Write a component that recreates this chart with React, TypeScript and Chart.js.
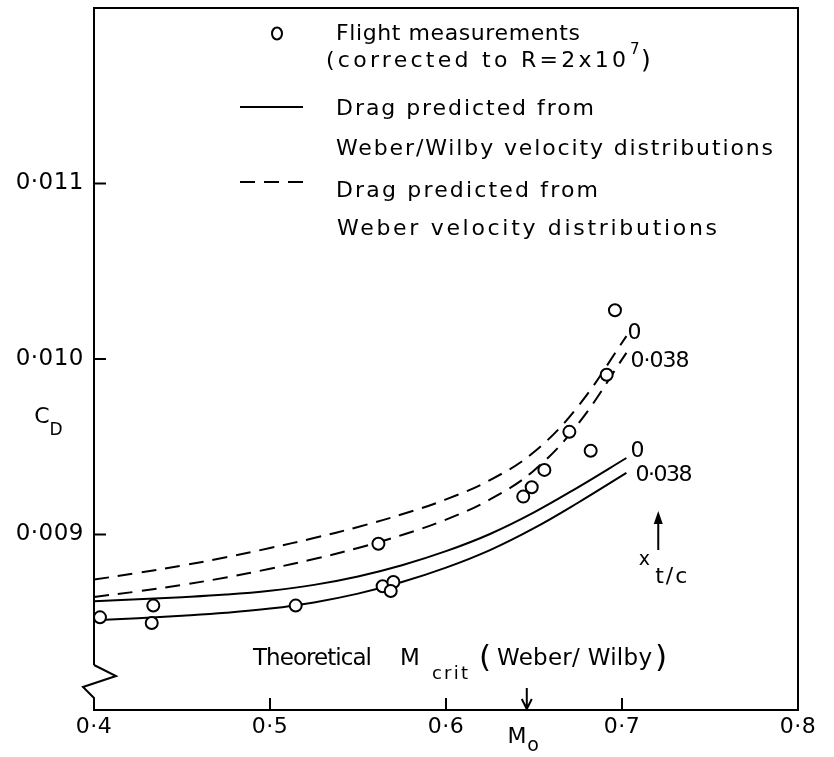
import React, { useEffect, useRef } from 'react';
import { Chart, registerables } from 'chart.js';

Chart.register(...registerables);

const FONT = '"DejaVu Sans", "Noto Sans", sans-serif';

// Axis ticks
const xTickValues = [0.4, 0.5, 0.6, 0.7, 0.8];
const xInnerTickValues = [0.5, 0.6, 0.7];
const yTickValues = [0.009, 0.01, 0.011];

// Flight measurements (corrected to R = 2x10^7)
const flightMach = [0.4034, 0.4337, 0.4328, 0.5146, 0.5616, 0.564, 0.5701, 0.5686, 0.6439, 0.6487, 0.6559, 0.6701, 0.6822, 0.6913, 0.696];
const flightCd = [0.008528, 0.008595, 0.008496, 0.008595, 0.008947, 0.008705, 0.008729, 0.008678, 0.009216, 0.009269, 0.009368, 0.009585, 0.009477, 0.00991, 0.010278];

// Predicted drag curves (t/c = 0 and t/c = 0.038)
const curveMach = [0.4, 0.425, 0.45, 0.475, 0.5, 0.525, 0.55, 0.575, 0.6, 0.625, 0.65, 0.675, 0.7025];
const wwZero = [0.00862, 0.008631, 0.008643, 0.008658, 0.00868, 0.008713, 0.008761, 0.008825, 0.008905, 0.009003, 0.009126, 0.009269, 0.009436];
const wwThick = [0.008511, 0.008523, 0.008537, 0.008554, 0.008578, 0.008613, 0.008663, 0.008729, 0.008811, 0.008911, 0.009036, 0.009181, 0.009351];
const weberZero = [0.008743, 0.008781, 0.008823, 0.00887, 0.008923, 0.00898, 0.009043, 0.009115, 0.0092, 0.00931, 0.00947, 0.00973, 0.01013];
const weberThick = [0.008644, 0.008676, 0.008713, 0.008755, 0.008805, 0.00886, 0.008923, 0.008997, 0.009085, 0.0092, 0.009365, 0.00963, 0.010035];

const mCrit = 0.6459;
const tcArrowMach = 0.7206;

const pts = (xs: number[], ys: number[]) => xs.map((x, i) => ({ x, y: ys[i] }));

function fitText(ctx: any, text: string, x: number, y: number, width: number, size: number) {
  ctx.save();
  ctx.font = `${size}px ${FONT}`;
  ctx.letterSpacing = '0px';
  const w = ctx.measureText(text).width;
  const n = Array.from(text).length;
  const ls = width > 0 && n > 1 ? (width - w) / (n - 1) : 0;
  ctx.letterSpacing = `${ls}px`;
  ctx.textAlign = 'left';
  ctx.textBaseline = 'middle';
  ctx.fillStyle = '#000';
  ctx.fillText(text, x, y);
  ctx.restore();
}

function centerText(ctx: any, text: string, x: number, y: number, size: number) {
  ctx.save();
  ctx.font = `${size}px ${FONT}`;
  ctx.letterSpacing = '0px';
  ctx.textAlign = 'center';
  ctx.textBaseline = 'middle';
  ctx.fillStyle = '#000';
  ctx.fillText(text, x, y);
  ctx.restore();
}

const tickSpacingPlugin = {
  id: 'tickSpacing',
  beforeDraw(chart: any) {
    chart.ctx.letterSpacing = '0.5px';
  },
  beforeDatasetsDraw(chart: any) {
    chart.ctx.letterSpacing = '0px';
  },
};

const annotationPlugin = {
  id: 'annotations',
  afterDraw(chart: any) {
    const ctx = chart.ctx;
    const xs = chart.scales.x;
    const ys = chart.scales.y;
    const { left, right, top, bottom } = chart.chartArea;
    ctx.save();
    ctx.letterSpacing = '0px';
    ctx.strokeStyle = '#000';
    ctx.fillStyle = '#000';
    ctx.lineWidth = 2;
    ctx.lineCap = 'butt';
    ctx.setLineDash([]);

    // Frame with axis break on the left
    ctx.beginPath();
    ctx.moveTo(left, bottom - 45);
    ctx.lineTo(left, top);
    ctx.lineTo(right, top);
    ctx.lineTo(right, bottom);
    ctx.lineTo(left, bottom);
    ctx.lineTo(left, bottom - 12);
    ctx.lineTo(left - 11, bottom - 23);
    ctx.lineTo(left + 22, bottom - 34);
    ctx.lineTo(left, bottom - 45);
    ctx.stroke();

    // Inward tick marks
    ctx.beginPath();
    yTickValues.forEach((v) => {
      const py = ys.getPixelForValue(v);
      ctx.moveTo(left, py);
      ctx.lineTo(left + 12, py);
    });
    xInnerTickValues.forEach((v) => {
      const px = xs.getPixelForValue(v);
      ctx.moveTo(px, bottom);
      ctx.lineTo(px, bottom - 12);
    });
    ctx.stroke();

    // Legend
    ctx.beginPath();
    ctx.ellipse(277, 33.5, 5, 6, 0, 0, Math.PI * 2);
    ctx.stroke();
    fitText(ctx, 'Flight measurements', 336, 34, 244, 22);
    fitText(ctx, '(corrected to R=2x10', 326, 61, 300, 22);
    fitText(ctx, '7', 630, 50, 0, 15);
    fitText(ctx, ')', 641, 61, 0, 25);
    ctx.beginPath();
    ctx.moveTo(240, 107);
    ctx.lineTo(303, 107);
    ctx.stroke();
    fitText(ctx, 'Drag predicted from', 336, 109, 258, 22);
    fitText(ctx, 'Weber/Wilby velocity distributions', 336, 149, 437, 22);
    ctx.setLineDash([15, 9]);
    ctx.beginPath();
    ctx.moveTo(240, 182);
    ctx.lineTo(303, 182);
    ctx.stroke();
    ctx.setLineDash([]);
    fitText(ctx, 'Drag predicted from', 336, 191, 262, 22);
    fitText(ctx, 'Weber velocity distributions', 337, 229, 380, 22);

    // Curve labels at ends of the predicted curves
    const endLabel = (vals: number[], text: string, dx: number, dy: number, width: number) => {
      const n = curveMach.length - 1;
      const px = xs.getPixelForValue(curveMach[n]);
      const py = ys.getPixelForValue(vals[n]);
      if (width > 0) fitText(ctx, text, px + dx, py + dy, width, 22);
      else centerText(ctx, text, px + dx, py + dy, 22);
    };
    endLabel(wwZero, '0', 11, -7, 0);
    endLabel(wwThick, '0·038', 9, 2, 57);
    endLabel(weberZero, '0', 8, -3, 0);
    endLabel(weberThick, '0·038', 4, 8, 59);

    // t/c arrow
    const ax = xs.getPixelForValue(tcArrowMach);
    ctx.beginPath();
    ctx.moveTo(ax, 550);
    ctx.lineTo(ax, 520);
    ctx.stroke();
    ctx.beginPath();
    ctx.moveTo(ax, 511);
    ctx.lineTo(ax - 4.5, 524);
    ctx.lineTo(ax + 4.5, 524);
    ctx.closePath();
    ctx.fill();
    centerText(ctx, 'x', ax - 14, 560, 19);
    fitText(ctx, 't/c', ax - 3, 577, 32, 22);

    // Theoretical M_crit annotation
    fitText(ctx, 'Theoretical', 253, 659, 119, 23);
    fitText(ctx, 'M', 400, 659, 0, 23);
    fitText(ctx, 'crit', 432, 674, 36, 18);
    fitText(ctx, '(', 479, 659, 0, 31);
    fitText(ctx, 'Weber/ Wilby', 497, 659, 155, 23);
    fitText(ctx, ')', 655, 659, 0, 31);
    const mx = xs.getPixelForValue(mCrit);
    ctx.beginPath();
    ctx.moveTo(mx, 688);
    ctx.lineTo(mx, bottom - 1);
    ctx.moveTo(mx - 5, bottom - 11);
    ctx.lineTo(mx, bottom - 1);
    ctx.lineTo(mx + 5, bottom - 11);
    ctx.stroke();

    // Axis titles
    centerText(ctx, 'C', 42, 417, 22);
    centerText(ctx, 'D', 56, 431, 17);
    centerText(ctx, 'M', 517, 737, 22);
    centerText(ctx, 'o', 533, 746, 19);

    ctx.restore();
  },
};

const fmt = (v: number, d: number) => Number(v).toFixed(d).replace('.', '·');

export default function App() {
  const ref = useRef<HTMLCanvasElement>(null);

  useEffect(() => {
    const canvas = ref.current;
    if (!canvas) return;
    const lineStyle = (dash: number[]) => ({
      showLine: true,
      borderColor: '#000',
      borderWidth: 2,
      borderDash: dash,
      pointRadius: 0,
      pointHoverRadius: 0,
      tension: 0.4,
      fill: false,
      order: 1,
    });
    const chart = new Chart(canvas, {
      type: 'scatter',
      data: {
        datasets: [
          {
            label: 'Flight measurements (corrected to R=2x10^7)',
            data: pts(flightMach, flightCd),
            showLine: false,
            pointRadius: 6,
            pointBorderWidth: 2,
            pointBorderColor: '#000',
            pointBackgroundColor: '#fff',
            order: 0,
          },
          { label: 'Weber/Wilby t/c = 0', data: pts(curveMach, wwZero), ...lineStyle([]) },
          { label: 'Weber/Wilby t/c = 0.038', data: pts(curveMach, wwThick), ...lineStyle([]) },
          { label: 'Weber t/c = 0', data: pts(curveMach, weberZero), ...lineStyle([15, 9]) },
          { label: 'Weber t/c = 0.038', data: pts(curveMach, weberThick), ...lineStyle([15, 9]) },
        ] as any,
      },
      options: {
        animation: false,
        responsive: false,
        devicePixelRatio: 1,
        layout: { padding: { top: 6, right: 36, left: 0, bottom: 0 } },
        plugins: { legend: { display: false }, tooltip: { enabled: false } },
        events: [],
        scales: {
          x: {
            type: 'linear',
            min: 0.4,
            max: 0.8,
            afterBuildTicks: (s: any) => {
              s.ticks = xTickValues.map((v) => ({ value: v }));
            },
            afterFit: (s: any) => {
              s.height = 47;
              s.paddingLeft = 0;
              s.paddingRight = 0;
            },
            grid: { display: false, drawTicks: false },
            border: { display: false },
            ticks: {
              color: '#000',
              padding: 4,
              maxRotation: 0,
              autoSkip: false,
              font: { family: FONT, size: 22 },
              callback: (v: any) => fmt(v, 1),
            },
          },
          y: {
            type: 'linear',
            min: 0.008,
            max: 0.012,
            afterBuildTicks: (s: any) => {
              s.ticks = yTickValues.map((v) => ({ value: v }));
            },
            afterFit: (s: any) => {
              s.width = 94;
              s.paddingTop = 0;
              s.paddingBottom = 0;
            },
            grid: { display: false, drawTicks: false },
            border: { display: false },
            ticks: {
              color: '#000',
              padding: 10,
              autoSkip: false,
              font: { family: FONT, size: 23 },
              callback: (v: any) => fmt(v, 3),
            },
          },
        },
      } as any,
      plugins: [tickSpacingPlugin, annotationPlugin],
    });
    return () => chart.destroy();
  }, []);

  return (
    <div style={{ position: 'absolute', left: 0, top: 0, width: 834, height: 757, background: '#fff' }}>
      <canvas ref={ref} width={834} height={757} style={{ display: 'block', width: 834, height: 757 }} />
    </div>
  );
}
